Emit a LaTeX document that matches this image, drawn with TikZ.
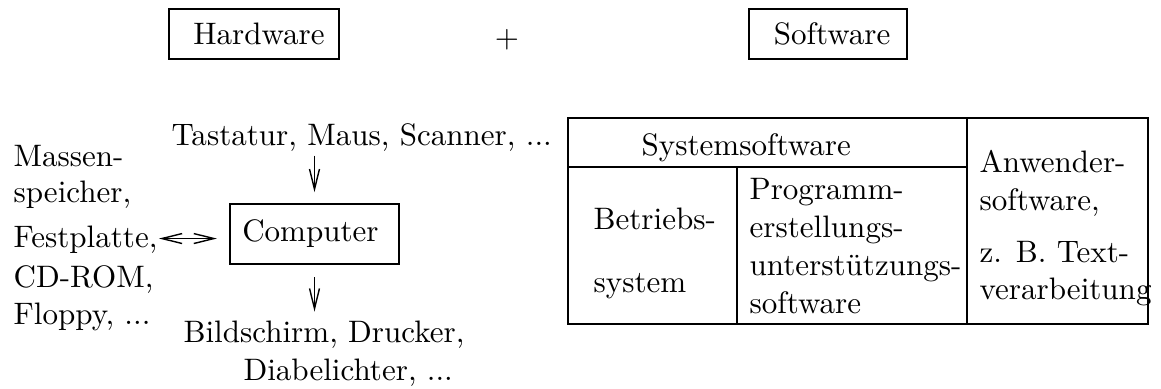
\documentclass[tikz,border=0pt]{standalone}
\usepackage{fontspec}
\usetikzlibrary{arrows.meta}
\begin{document}
\begin{tikzpicture}[x=0.322pt, y=-0.322pt,
    box/.style={draw, line width=0.65pt, inner sep=0pt},
    lbl/.style={inner sep=0pt, font=\fontsize{10}{12.2}\selectfont},
    arr/.style={-{Straight Barb[length=6.5pt,width=3.2pt]}, line width=0.45pt},
    tab/.style={line width=0.65pt}]
\useasboundingbox (0,0) rectangle (1161,389);

% Hardware + Software
\node[box, minimum width=54.7pt, minimum height=16.1pt] (hw) at (254,34) {\hspace*{3.2pt}Hardware};
\node (plus) at (507,40) {$+$};
\node[box, minimum width=50.9pt, minimum height=16.1pt] (sw) at (828,34) {\hspace*{2.6pt}Software};

% Hardware side
\node[lbl, anchor=base west] (input) at (171,146)
{Tastatur, Maus, Scanner, ...};
\node[box, minimum width=54.4pt, minimum height=19.3pt] (comp) at (314.5,234)
{Computer\hspace*{2.6pt}};
% multi-line nodes: base = last line
\node[lbl, anchor=base west, align=left] (output) at (183,380)
{Bildschirm, Drucker,\\\hspace*{19.3pt}Diabelichter, ...};
\node[lbl, anchor=base west, align=left] (store) at (13,325)
{Massen-\\[-0.9pt]speicher,\\[2.3pt]Festplatte,\\[0.7pt]CD-ROM,\\Floppy, ...};

\draw[arr, shorten <=1pt, shorten >=3.5pt] (input.south -| comp.north) -- (comp.north);
\draw[arr, shorten <=3.9pt, shorten >=2.7pt] (comp.south) -- (output.north -| comp.south);
\draw[line width=0.45pt, {Straight Barb[length=6.5pt,width=3.2pt]}-{Straight Barb[length=6.5pt,width=3.2pt]},
  shorten <=0.3pt, shorten >=3.9pt] (store.east) -- (store.east -| comp.west);

% Software side
\draw[tab] (568,118) rectangle (1148,324);
\draw[tab] (967,118) -- (967,324);
\draw[tab] (568,167) -- (967,167);
\draw[tab] (737,167) -- (737,324);

\node[lbl, anchor=base west] (sys) at (641,156) {Systemsoftware};
\node[lbl, anchor=base west, align=left] (os) at (593,292)
{Betriebs-\\[7.8pt]system};
\node[lbl, anchor=base west, align=left] (dev) at (749,313)
{Programm-\\erstellungs-\\unterstützungs-\\software};
\node[lbl, anchor=base west, align=left] (app) at (979,300)
{Anwender-\\software,\\[4.5pt]z. B. Text-\\verarbeitung};

\end{tikzpicture}
\end{document}
